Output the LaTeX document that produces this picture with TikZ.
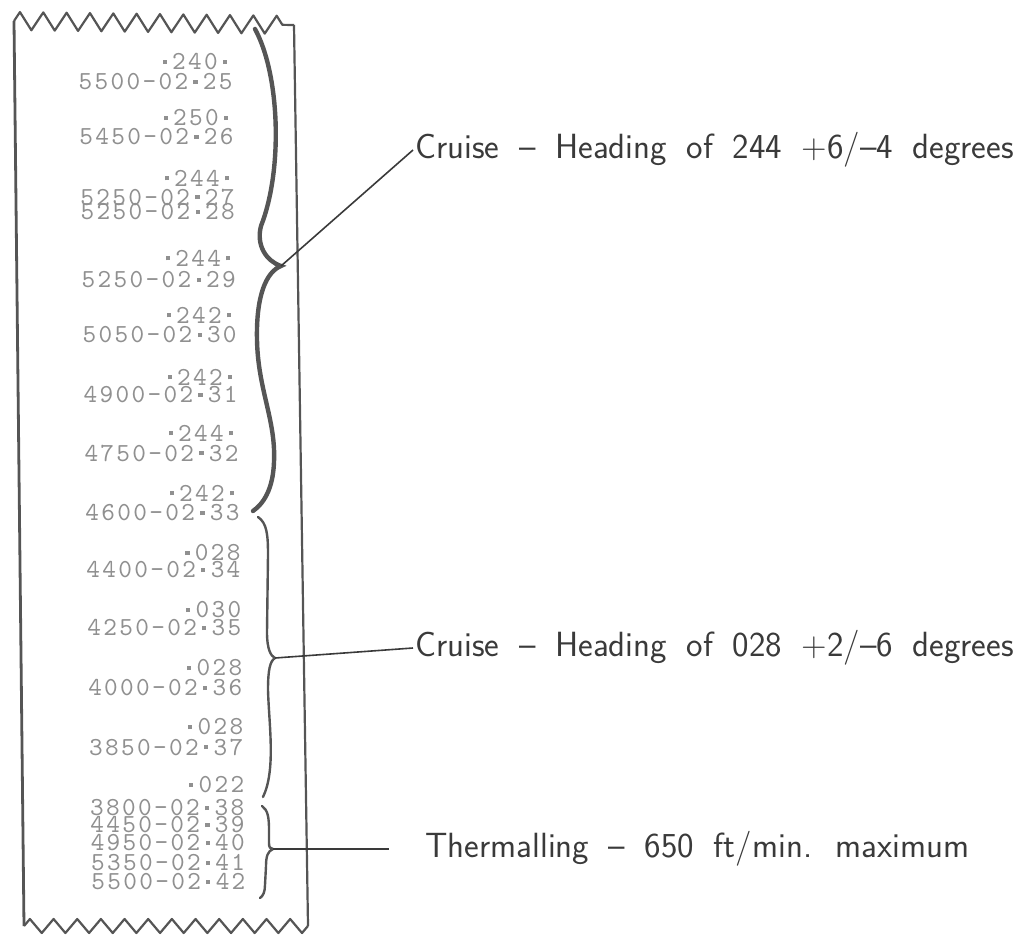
\documentclass[tikz,border=0pt]{standalone}
\usepackage{fontspec}
\usepackage{tikz}
\usetikzlibrary{positioning, calc, decorations.pathmorphing}

\newfontfamily\tapefont{lmmono10-regular.otf}[LetterSpace=9]
\newcommand{\legendefont}{\sffamily\fontsize{17.5}{20}\selectfont\spaceskip=0.56em plus 0.1em minus 0.05em}
\newcommand{\pnt}{\makebox[7.4pt]{\raisebox{2.9pt}{\rule{2.1pt}{2.1pt}}}}

\definecolor{encre}{HTML}{3A3A3A}
\definecolor{trait}{HTML}{555555}
\definecolor{impression}{HTML}{909090}

\tikzset{
  bande/.style={draw=trait, line width=1.1pt, line join=round},
  dents/.style={bande, decorate, decoration={zigzag, segment length=11.67pt, amplitude=4.5pt}},
  ligne/.style={font=\tapefont\fontsize{13}{13}\selectfont, text=impression, inner sep=0pt, anchor=east},
  accolade/.style={draw=trait, line width=1.2pt, line cap=round},
  renvoi/.style={draw=encre, line width=0.8pt},
  legende/.style={font=\legendefont, text=encre, anchor=west, inner sep=1pt},
}

\begin{document}
\begin{tikzpicture}[x=0.5pt, y=-0.5pt]
  \useasboundingbox (0,0) rectangle (1021,936);

  % Bande de papier
  \coordinate (hg) at (14,21);
  \coordinate (hd) at (294,25);
  \coordinate (bg) at (24,926);
  \coordinate (bd) at (308,926);
  \draw[bande, line width=1.4pt] (hg) -- (bg);
  \draw[bande] (hd) -- (bd);
  \draw[dents] (hg) -- (hd);
  \draw[dents, decoration={segment length=11.83pt, amplitude=3.5pt}] (bg) -- (bd);

  % Impression : altitude, jour, minute
  \foreach \y/\txt in {82/5500-02\pnt 25, 137/5450-02\pnt 26, 197/5250-02\pnt 27, 212/5250-02\pnt 28,
      280/5250-02\pnt 29, 335/5050-02\pnt 30, 395/4900-02\pnt 31, 453/4750-02\pnt 32, 513/4600-02\pnt 33,
      570/4400-02\pnt 34, 628/4250-02\pnt 35, 688/4000-02\pnt 36, 747/3850-02\pnt 37, 808/3800-02\pnt 38,
      825/4450-02\pnt 39, 843/4950-02\pnt 40, 863/5350-02\pnt 41, 882/5500-02\pnt 42}
    \node[ligne] (l\y) at ({233+0.016*(\y-82)},\y) {\txt};

  % Impression : cap
  \foreach \y/\cap in {62/\pnt 240\pnt, 118/\pnt 250\pnt, 178/\pnt 244\pnt, 258/\pnt 244\pnt,
      315/\pnt 242\pnt, 377/\pnt 242\pnt, 433/\pnt 244\pnt, 493/\pnt 242\pnt,
      553/\pnt 028, 610/\pnt 030, 668/\pnt 028, 727/\pnt 028, 785/\pnt 022}
    \node[ligne] (c\y) at ({233+0.016*(\y-62)},\y) {\cap};

  % Pointes des accolades
  \coordinate (pointe1) at (281,266);
  \coordinate (pointe2) at (275,658);
  \coordinate (pointe3) at (273,849);

  % Accolade epaisse (cap 244)
  \draw[accolade, line width=2.2pt] (255,29) .. controls (280,75) and (283,170) .. (261,226)
    .. controls (256,245) and (266,261) .. (pointe1)
    .. controls (266,272) and (256,296) .. (257,340)
    .. controls (258,390) and (276,420) .. (274,462)
    .. controls (273,490) and (263,504) .. (253,511);

  % Accolade (cap 028)
  \draw[accolade] (258,517) .. controls (267,523) and (268,535) .. (268,555) -- (267,632)
    .. controls (267,650) and (271,656) .. (pointe2)
    .. controls (270,661) and (268,670) .. (268,690)
    .. controls (269,725) and (276,770) .. (263,797);

  % Accolade (spirale)
  \draw[accolade] (262,806) .. controls (268,810) and (269,818) .. (269,830) -- (269,843)
    .. controls (269,847) and (270,849) .. (pointe3)
    .. controls (268,851) and (266,856) .. (266,866) -- (265,885)
    .. controls (265,892) and (263,896) .. (260,898);

  % Legendes
  \node[legende] (croisiere1) at (413,150) {Cruise – Heading of 244 +6/–4 degrees};
  \node[legende] (croisiere2) at (413,648) {Cruise – Heading of 028 +2/–6 degrees};
  \node[legende] (spirale) at (423,849) {Thermalling – 650 ft/min. maximum};

  % Renvois
  \draw[renvoi] (pointe1) -- (croisiere1.west);
  \draw[renvoi] (pointe2) -- (croisiere2.west);
  \draw[renvoi] (pointe3) -- ([xshift=-17pt]spirale.west);
\end{tikzpicture}
\end{document}
